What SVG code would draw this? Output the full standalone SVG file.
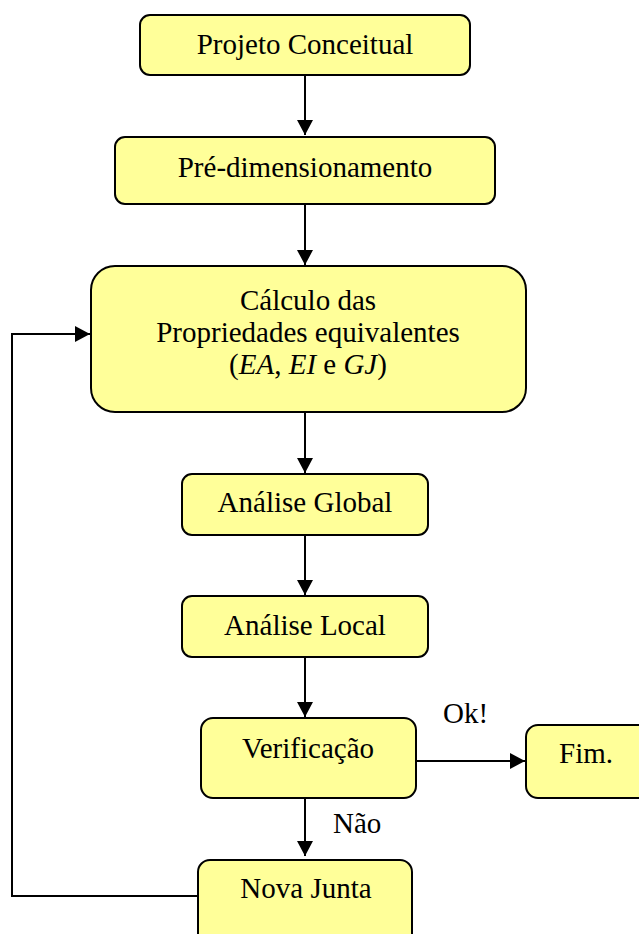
<svg xmlns="http://www.w3.org/2000/svg" width="639" height="934" viewBox="0 0 639 934">
<style>
.box{fill:#FFFF99;stroke:#000;stroke-width:2}
.s{font-family:'Liberation Serif',serif !important;font-size:29px}
.m{text-anchor:middle}
.c{fill:none;stroke:#000;stroke-width:2}
</style>
<defs>
<marker id="ah" markerUnits="userSpaceOnUse" markerWidth="16" markerHeight="16" refX="15" refY="8" orient="auto">
<path d="M0,0 L15,8 L0,16 Z" fill="#000"/>
</marker>
</defs>
<g id="connectors">
<line class="c" x1="305" y1="76" x2="305" y2="135" marker-end="url(#ah)"/>
<line class="c" x1="305" y1="204" x2="305" y2="265" marker-end="url(#ah)"/>
<line class="c" x1="305" y1="412" x2="305" y2="473" marker-end="url(#ah)"/>
<line class="c" x1="305" y1="535" x2="305" y2="595" marker-end="url(#ah)"/>
<line class="c" x1="305" y1="657" x2="305" y2="717" marker-end="url(#ah)"/>
<line class="c" x1="416" y1="761" x2="525" y2="761" marker-end="url(#ah)"/>
<line class="c" x1="305" y1="798" x2="305" y2="856" marker-end="url(#ah)"/>
<polyline class="c" points="198,896 12,896 12,334 90,334" marker-end="url(#ah)"/>
<text class="s" x="443" y="723" font-family="Liberation Serif">Ok!</text>
<text class="s" x="333" y="833" font-family="Liberation Serif">Não</text>
</g>
<g id="n1">
<rect class="box" x="140" y="15" width="330" height="60" rx="10"/>
<text class="s m" x="305" y="54" font-family="Liberation Serif">Projeto Conceitual</text>
</g>
<g id="n2">
<rect class="box" x="115" y="137" width="380" height="67" rx="10"/>
<text class="s m" x="305" y="177" font-family="Liberation Serif">Pré-dimensionamento</text>
</g>
<g id="n3">
<rect class="box" x="91" y="266" width="435" height="146" rx="24"/>
<text class="s m" x="308" y="310" font-family="Liberation Serif">Cálculo das</text>
<text class="s m" x="308" y="342" font-family="Liberation Serif">Propriedades equivalentes</text>
<text class="s m" x="308" y="374" font-family="Liberation Serif">(<tspan font-style="italic">EA</tspan>, <tspan font-style="italic">EI</tspan> e <tspan font-style="italic">GJ</tspan>)</text>
</g>
<g id="n4">
<rect class="box" x="182" y="474" width="246" height="61" rx="10"/>
<text class="s m" x="305" y="512" font-family="Liberation Serif">Análise Global</text>
</g>
<g id="n5">
<rect class="box" x="182" y="596" width="246" height="61" rx="10"/>
<text class="s m" x="305" y="635" font-family="Liberation Serif">Análise Local</text>
</g>
<g id="n6">
<rect class="box" x="201" y="718" width="215" height="80" rx="12"/>
<text class="s m" x="308" y="758" font-family="Liberation Serif">Verificação</text>
</g>
<g id="n7">
<rect class="box" x="526" y="725" width="130" height="73" rx="12"/>
<text class="s m" x="586" y="763" font-family="Liberation Serif">Fim.</text>
</g>
<g id="n8">
<rect class="box" x="198" y="860" width="214" height="90" rx="12"/>
<text class="s m" x="306" y="898" font-family="Liberation Serif">Nova Junta</text>
</g>
</svg>
